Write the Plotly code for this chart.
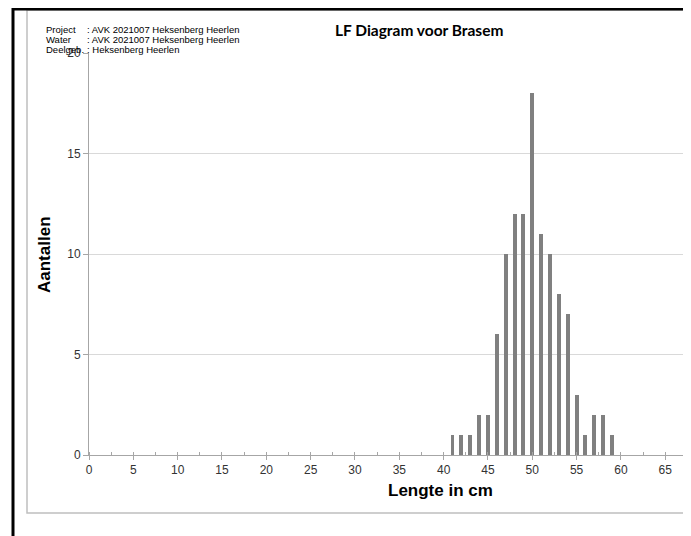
import plotly.graph_objects as go

lengths = [41, 42, 43, 44, 45, 46, 47, 48, 49, 50, 51, 52, 53, 54, 55, 56, 57, 58, 59]
counts = [1, 1, 1, 2, 2, 6, 10, 12, 12, 18, 11, 10, 8, 7, 3, 1, 2, 2, 1]
x_ticks = [0, 5, 10, 15, 20, 25, 30, 35, 40, 45, 50, 55, 60, 65]
y_ticks = [0, 5, 10, 15, 20]
header_labels = ["Project", "Water", "Deelgeb."]
header_values = [": AVK 2021007 Heksenberg Heerlen", ": AVK 2021007 Heksenberg Heerlen", ": Heksenberg Heerlen"]
title_text = "LF Diagram voor Brasem"
x_title = "Lengte in cm"
y_title = "Aantallen"

# page has an 8px body margin: work in window pixels, shift by O
O = 8
W, H = 691 - O, 536 - O
L, T = 89 - O, 53 - O
R = W - (683 - O)
B = H - (455 - O)
pw, ph = W - L - R, H - T - B

def px(x):
    return (x - O - L) / pw

def py(y):
    return (H - B - (y - O)) / ph

fig = go.Figure()
fig.add_trace(go.Bar(x=lengths, y=counts, width=0.45, marker=dict(color="#808080", line=dict(width=0))))

hfont = dict(family="Liberation Sans, Arial", size=9.5, color="#000")
ann = []
for i, (lab, val) in enumerate(zip(header_labels, header_values)):
    yy = 29 + i * 10.3
    ann.append(dict(x=px(44), y=py(yy), xref="paper", yref="paper", text=lab, showarrow=False,
                    xanchor="left", yanchor="middle", font=hfont))
    ann.append(dict(x=px(85), y=py(yy), xref="paper", yref="paper", text=val, showarrow=False,
                    xanchor="left", yanchor="middle", font=hfont))
ann.append(dict(x=px(419), y=py(30), xref="paper", yref="paper", text="<b>" + title_text + "</b>", showarrow=False,
                xanchor="center", yanchor="middle", font=dict(family="Lato, Open Sans", size=15.5, color="#000")))
ann.append(dict(x=px(440), y=py(490), xref="paper", yref="paper", text="<b>" + x_title + "</b>", showarrow=False,
                xanchor="center", yanchor="middle", font=dict(family="Liberation Sans, Arial", size=17, color="#000")))
ann.append(dict(x=px(44), y=py(255), xref="paper", yref="paper", text="<b>" + y_title + "</b>", showarrow=False,
                textangle=-90, xanchor="center", yanchor="middle", font=dict(family="Liberation Sans, Arial", size=17, color="#000")))

shapes = [
    dict(type="rect", xref="paper", yref="paper", x0=px(27), x1=px(684), y0=py(513), y1=py(10),
         line=dict(color="#bfbfbf", width=1.5)),
    dict(type="rect", xref="paper", yref="paper", x0=px(13), x1=px(685), y0=py(560), y1=py(9),
         line=dict(color="#000", width=3)),
]

fig.update_layout(
    width=W, height=H,
    margin=dict(l=L, r=R, t=T, b=B),
    paper_bgcolor="white", plot_bgcolor="white",
    showlegend=False,
    annotations=ann,
    shapes=shapes,
    bargap=0,
    xaxis=dict(range=[0, 67], tickvals=x_ticks, showgrid=False, zeroline=False,
               showline=True, linecolor="#a6a6a6", linewidth=1,
               ticks="outside", ticklen=4, tickcolor="#a6a6a6",
               minor=dict(dtick=2.5, tick0=0, ticks="inside", ticklen=3, tickcolor="#a6a6a6", showgrid=False),
               tickfont=dict(family="Liberation Sans, Arial", size=12, color="#333")),
    yaxis=dict(range=[0, 20], tickvals=y_ticks, showgrid=True, gridcolor="#d9d9d9", gridwidth=1,
               zeroline=False, showline=True, linecolor="#a6a6a6", linewidth=1,
               ticks="outside", ticklen=5, tickcolor="#a6a6a6",
               tickfont=dict(family="Liberation Sans, Arial", size=12, color="#333")),
)

fig.write_html("out.html")
